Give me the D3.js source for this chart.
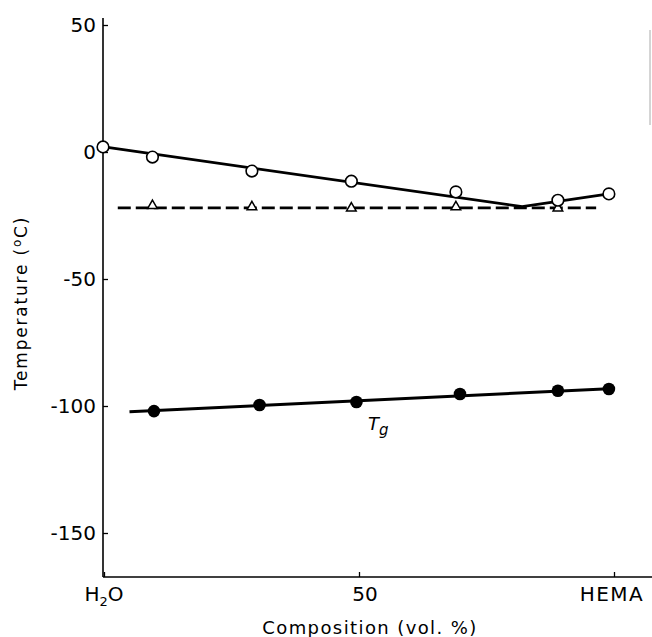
<!DOCTYPE html>
<html>
<head>
<meta charset="utf-8">
<script src="https://cdn.jsdelivr.net/npm/d3@7"></script>
<style>
    body { margin: 0; background: #fff; }
    svg { display: block; font-family: 'DejaVu Sans', sans-serif; }
</style>
</head>
<body>
<svg></svg>
<script>
// composition (vol. % HEMA) and temperatures (oC)
let openComp = [0, 9.5, 29, 48.5, 69, 89, 99];
let openTemp = [2, -2, -7.5, -11.5, -15.7, -19, -16.5];

let triComp = [9.5, 29, 48.5, 69, 89];
let triTemp = [-21.5, -22, -22.5, -22, -22.5];

let tgComp = [9.8, 30.5, 49.5, 69.8, 89, 99];
let tgTemp = [-102, -99.6, -98.4, -95.3, -94, -93.3];

// fitted lines
let openFitComp = [0, 82, 99];
let openFitTemp = [2, -21.5, -16.5];
let triFitComp = [2.7, 96.5];
let triFitTemp = [-22, -22];
let tgFitComp = [5, 99];
let tgFitTemp = [-102.3, -93.2];

let yTicks = [50, 0, -50, -100, -150];
let xTicks = [0, 50, 100];

let width = 652;
let height = 637;
let svg = d3.select('svg').attr('width', width).attr('height', height);

let xScale = d3.scaleLinear().domain([0, 100]).range([104, 614]);
let yScale = d3.scaleLinear().domain([-150, 50]).range([533, 25]);

let x0 = xScale(0) - 1;
let yBottom = 577;
let yTop = 18;

/**
 * axes
 */
let yAxis = d3.axisRight(yScale).tickValues(yTicks).tickSize(5).tickFormat('');
svg.append('g')
    .attr('transform', `translate(${x0}, 0)`)
    .call(yAxis)
    .call(g => g.select('.domain').remove());

svg.append('line')
    .attr('x1', x0).attr('x2', x0)
    .attr('y1', yTop).attr('y2', yBottom)
    .attr('stroke', '#000').attr('stroke-width', 1.6);

let xAxis = d3.axisTop(xScale).tickValues(xTicks).tickSize(5).tickFormat('');
svg.append('g')
    .attr('transform', `translate(0, ${yBottom})`)
    .call(xAxis)
    .call(g => g.select('.domain').remove());

svg.append('line')
    .attr('x1', x0).attr('x2', width)
    .attr('y1', yBottom).attr('y2', yBottom)
    .attr('stroke', '#000').attr('stroke-width', 1.6);

// scrap of the right frame at the page edge
svg.append('line')
    .attr('x1', 650).attr('x2', 650)
    .attr('y1', 30).attr('y2', 125)
    .attr('stroke', '#aaa').attr('stroke-width', 1);

svg.selectAll('.tick line').attr('stroke', '#000').attr('stroke-width', 1.3);

// y tick labels
svg.append('g').selectAll('text')
    .data(yTicks)
    .enter()
    .append('text')
    .attr('x', 96)
    .attr('y', d => yScale(d))
    .attr('dy', '0.36em')
    .attr('text-anchor', 'end')
    .attr('font-size', 20)
    .text(d => d);

// x tick labels
let xLab = svg.append('g').attr('font-size', 20).attr('text-anchor', 'middle');
let h2o = xLab.append('text').attr('x', xScale(0)).attr('y', 601);
h2o.append('tspan').text('H');
h2o.append('tspan').attr('font-size', 13).attr('dy', 5).text('2');
h2o.append('tspan').attr('dy', -5).text('O');
xLab.append('text').attr('x', 365).attr('y', 601).text('50');
xLab.append('text').attr('x', 612).attr('y', 601).attr('letter-spacing', 1.5).text('HEMA');

// axis titles
svg.append('text')
    .attr('x', 370)
    .attr('y', 634)
    .attr('text-anchor', 'middle')
    .attr('font-size', 18)
    .attr('letter-spacing', 1.4)
    .text('Composition  (vol. %)');

let yTitle = svg.append('text')
    .attr('transform', `translate(27, 303) rotate(-90)`)
    .attr('text-anchor', 'middle')
    .attr('font-size', 17)
    .attr('letter-spacing', 1.8);
yTitle.append('tspan').text('Temperature  (');
yTitle.append('tspan').attr('font-size', 12).attr('dy', -6).text('o');
yTitle.append('tspan').attr('dy', 6).text('C)');

/**
 * fitted lines
 */
let line = d3.line().x(d => xScale(d[0])).y(d => yScale(d[1]));

svg.append('path')
    .datum(d3.zip(triFitComp, triFitTemp))
    .attr('d', line)
    .attr('fill', 'none')
    .attr('stroke', '#000')
    .attr('stroke-width', 2.7)
    .attr('stroke-dasharray', '13,5');

svg.append('path')
    .datum(d3.zip(openFitComp, openFitTemp))
    .attr('d', line)
    .attr('fill', 'none')
    .attr('stroke', '#000')
    .attr('stroke-width', 2.8);

svg.append('path')
    .datum(d3.zip(tgFitComp, tgFitTemp))
    .attr('d', line)
    .attr('fill', 'none')
    .attr('stroke', '#000')
    .attr('stroke-width', 3);

/**
 * markers
 */
let tri = d3.symbol().type(d3.symbolTriangle).size(40);
svg.append('g').selectAll('path')
    .data(d3.zip(triComp, triTemp))
    .enter()
    .append('path')
    .attr('d', tri)
    .attr('transform', d => `translate(${xScale(d[0])}, ${yScale(d[1]) - 1})`)
    .attr('fill', '#fff')
    .attr('stroke', '#000')
    .attr('stroke-width', 1.5);

svg.append('g').selectAll('circle')
    .data(d3.zip(openComp, openTemp))
    .enter()
    .append('circle')
    .attr('cx', d => xScale(d[0]) - (d[0] === 0 ? 1 : 0))
    .attr('cy', d => yScale(d[1]))
    .attr('r', 5.8)
    .attr('fill', '#fff')
    .attr('stroke', '#000')
    .attr('stroke-width', 1.6);

svg.append('g').selectAll('circle')
    .data(d3.zip(tgComp, tgTemp))
    .enter()
    .append('circle')
    .attr('cx', d => xScale(d[0]))
    .attr('cy', d => yScale(d[1]))
    .attr('r', 6.3)
    .attr('fill', '#000');

// Tg label
let tg = svg.append('text')
    .attr('x', 368)
    .attr('y', 430)
    .attr('font-size', 18)
    .attr('font-style', 'italic');
tg.append('tspan').text('T');
tg.append('tspan').attr('font-size', 15).attr('dy', 5).text('g');
</script>
</body>
</html>
